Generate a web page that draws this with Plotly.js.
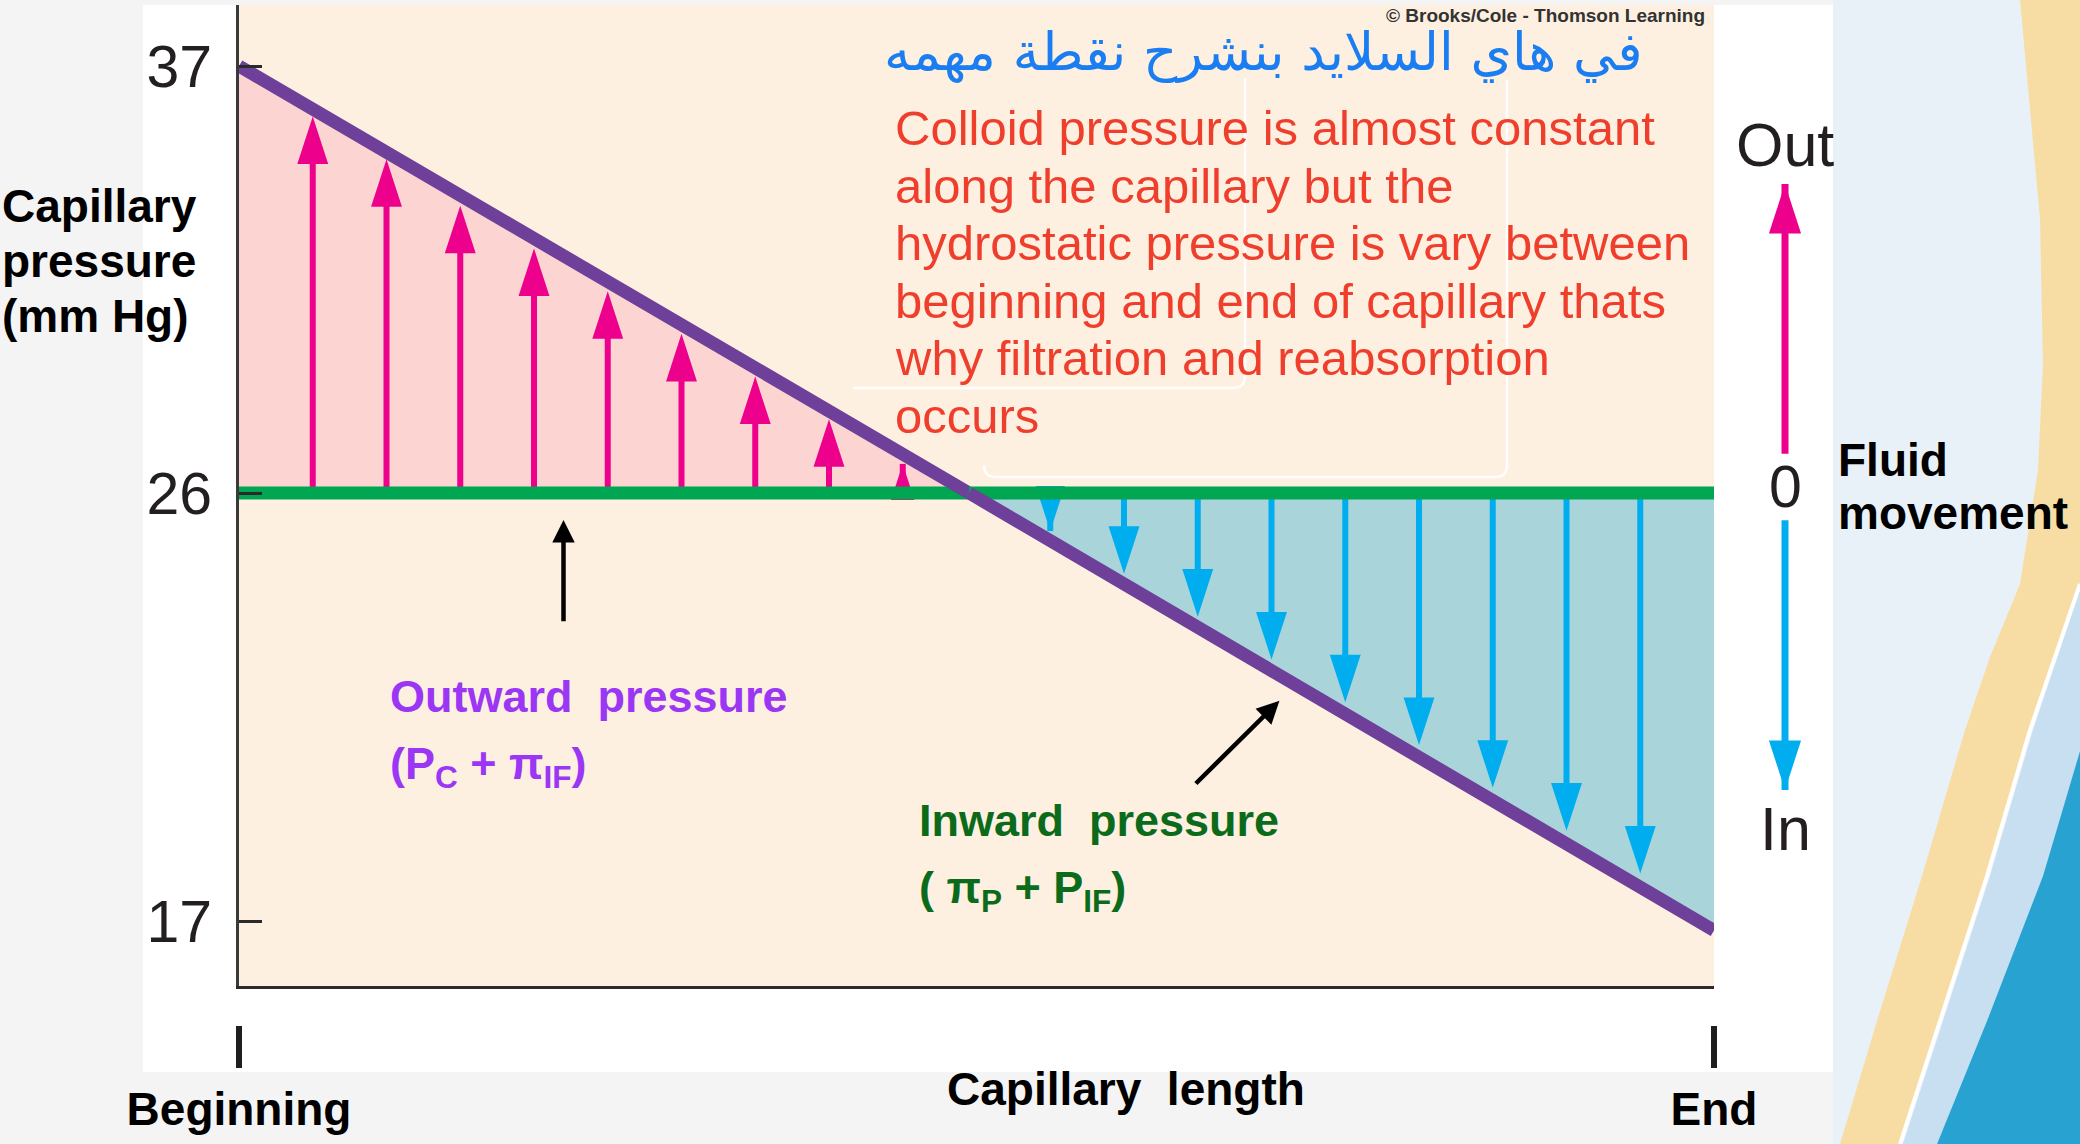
<!DOCTYPE html>
<html>
<head>
<meta charset="utf-8">
<script src="https://cdn.plot.ly/plotly-3.0.1.min.js"></script>
<style>
  html, body { margin: 0; padding: 0; background: #f4f4f4; }
  #chart { width: 2080px; height: 1144px; }
</style>
</head>
<body>
<div id="chart"></div>
<script>
// ---------------- data ----------------
const capillaryLength = [0, 0.495, 1];          // position along capillary (0 = beginning, 1 = end)
const purplePressure  = [37, 26, 16.8];         // mm Hg, sloping line
const greenPressure   = 26;                     // mm Hg, constant line
const yTickVals = [37, 26, 17];
const yTickText = ['37', '26', '17'];
const xTickVals = [0, 1];
const xTickText = ['Beginning', 'End'];
const outArrowX   = [0.05, 0.10, 0.15, 0.20, 0.25, 0.30, 0.35, 0.40, 0.45];
const outArrowTip = [35.7, 34.6, 33.4, 32.3, 31.2, 30.1, 29.0, 27.9, 26.75];
const inArrowX    = [0.55, 0.60, 0.65, 0.70, 0.75, 0.80, 0.85, 0.90, 0.95];
const inArrowTip  = [25.2, 24.3, 23.4, 22.5, 21.6, 20.7, 19.8, 18.9, 18.0];
const fluidLabels = ['Out', '0', 'In'];
const fluidLabelPos = [1.13, 0, -1.13];
const fluidOutArrow = [0.11, 1];
const fluidInArrow  = [-0.11, -1];
const noteLines = [
  'Colloid pressure is almost constant',
  'along the capillary but the',
  'hydrostatic pressure is vary between',
  'beginning and end of capillary thats',
  'why filtration and reabsorption',
  'occurs'
];
const arabicNote = 'في هاي السلايد بنشرح نقطة مهمه';

// ---------------- colours & fonts ----------------
const C = {
  peach: '#fdf0e1', pinkFill: '#fcd4d2', blueFill: '#a9d4da',
  green: '#00a651', purple: '#6e409a', pink: '#ec008c', cyan: '#00aeef',
  ink: '#231f20', red: '#ef3e2c', arabic: '#1a7ef2',
  outwardTxt: '#9b36f5', inwardTxt: '#0b6b1a'
};
const FONT = 'Liberation Sans, Arial, Helvetica, sans-serif';

// ---------------- geometry helpers (page pixels -> paper) ----------------
const W = 2080, H = 1144;
const X = p => p / W;
const Y = p => 1 - p / H;
const G = { left: 239, right: 1714, top: 5, bottom: 986, yHi: 66, yMid: 493, yLo: 921, ov: 7 };
const sUp = (G.yMid - G.yHi) / (yTickVals[0] - yTickVals[1]);   // px per mm Hg, upper part
const sLo = (G.yLo - G.yMid) / (yTickVals[1] - yTickVals[2]);   // px per mm Hg, lower part
const mid = yTickVals[1];

function arrowSeries(xs, tips, base, head) {
  const x = [], y = [], size = [];
  xs.forEach((v, i) => { x.push(v, v, null); y.push(base, tips[i], null); size.push(0, head, 0); });
  return { x, y, size };
}
const upA = arrowSeries(outArrowX, outArrowTip, greenPressure, 50);
const dnA = arrowSeries(inArrowX, inArrowTip, greenPressure, 50);

const split = capillaryLength[1];
const arrowMarker = (size, color) => ({ symbol: 'arrow', size, color, opacity: 1, angleref: 'previous', line: { width: 0 } });

const traces = [
  // ---- upper panel (above 26) ----
  { x: [capillaryLength[0], capillaryLength[1], capillaryLength[0]],
    y: [purplePressure[0], purplePressure[1], greenPressure],
    xaxis: 'x', yaxis: 'y', mode: 'lines', fill: 'toself', fillcolor: C.pinkFill,
    line: { width: 0, color: C.pinkFill }, hoverinfo: 'skip' },
  { x: upA.x, y: upA.y, xaxis: 'x', yaxis: 'y', mode: 'lines+markers',
    line: { color: C.pink, width: 6, backoff: 'auto' }, marker: arrowMarker(upA.size, C.pink), hoverinfo: 'skip' },
  { x: [capillaryLength[0], split], y: [greenPressure, greenPressure], xaxis: 'x', yaxis: 'y',
    mode: 'lines', line: { color: C.green, width: 13 }, hoverinfo: 'skip' },
  { x: capillaryLength.slice(0, 2), y: purplePressure.slice(0, 2), xaxis: 'x', yaxis: 'y',
    mode: 'lines', line: { color: C.purple, width: 13 }, hoverinfo: 'skip' },
  // ---- lower panel (below 26) ----
  { x: [capillaryLength[1], capillaryLength[2], capillaryLength[2]],
    y: [purplePressure[1], purplePressure[2], greenPressure],
    xaxis: 'x', yaxis: 'y2', mode: 'lines', fill: 'toself', fillcolor: C.blueFill,
    line: { width: 0, color: C.blueFill }, hoverinfo: 'skip' },
  { x: dnA.x, y: dnA.y, xaxis: 'x', yaxis: 'y2', mode: 'lines+markers',
    line: { color: C.cyan, width: 6, backoff: 'auto' }, marker: arrowMarker(dnA.size, C.cyan), hoverinfo: 'skip' },
  { x: [split, capillaryLength[2]], y: [greenPressure, greenPressure], xaxis: 'x', yaxis: 'y2',
    mode: 'lines', line: { color: C.green, width: 13 }, hoverinfo: 'skip' },
  { x: capillaryLength.slice(1), y: purplePressure.slice(1), xaxis: 'x', yaxis: 'y2',
    mode: 'lines', line: { color: C.purple, width: 13 }, hoverinfo: 'skip' },
  // ---- axis for Beginning / End marks ----
  { x: [], y: [], xaxis: 'x2', yaxis: 'y2', mode: 'lines', hoverinfo: 'skip' },
  // ---- fluid movement scale ----
  { x: [0, 0], y: fluidOutArrow, xaxis: 'x3', yaxis: 'y3', mode: 'lines+markers',
    line: { color: C.pink, width: 7, backoff: 'auto' }, marker: arrowMarker([0, 52], C.pink), hoverinfo: 'skip' },
  { x: [0, 0], y: fluidInArrow, xaxis: 'x3', yaxis: 'y3', mode: 'lines+markers',
    line: { color: C.cyan, width: 7, backoff: 'auto' }, marker: arrowMarker([0, 52], C.cyan), hoverinfo: 'skip' }
];

const yAxisCommon = {
  showline: true, linecolor: '#3a3a3a', linewidth: 3, ticks: 'inside', ticklen: 23, tickwidth: 3,
  tickcolor: '#2a2a2a', showgrid: false, zeroline: false, fixedrange: true,
  tickfont: { family: FONT, size: 59, color: C.ink }, ticklabelstandoff: 12, anchor: 'x'
};
const upTicks = yTickVals.map((v, i) => [v, yTickText[i]]).filter(t => t[0] > mid);
const loTicks = yTickVals.map((v, i) => [v, yTickText[i]]).filter(t => t[0] <= mid);

function txt(text, xp, yp, size, color, opts) {
  return Object.assign({
    text, x: X(xp), y: Y(yp), xref: 'paper', yref: 'paper', showarrow: false,
    xanchor: 'left', yanchor: 'middle',
    font: { family: FONT, size, color }
  }, opts || {});
}
const bold = 700;
const bf = (size, color) => ({ font: { family: FONT, size, color, weight: bold } });

const annotations = [];
// y title
['Capillary', 'pressure', '(mm Hg)'].forEach((s, i) =>
  annotations.push(txt(s, 0, 206 + i * 55, 46, '#000', bf(46, '#000'))));
// fluid movement title
['Fluid', 'movement'].forEach((s, i) =>
  annotations.push(txt(s, 1836, 460 + i * 53, 46, '#000', bf(46, '#000'))));
// x title
annotations.push(txt('Capillary\u00a0 length', 1126, 1089, 46, '#000',
  Object.assign({ xanchor: 'center' }, bf(46, '#000'))));
// copyright
annotations.push(txt('© Brooks/Cole - Thomson Learning', 1707, 15, 19, '#333',
  Object.assign({ xanchor: 'right' }, bf(19, '#333'))));
// arabic note
annotations.push(txt(arabicNote, 1645, 52, 53, C.arabic,
  { xanchor: 'right', font: { family: 'DejaVu Sans, Noto Sans, sans-serif', size: 53, color: C.arabic } }));
// red note
noteLines.forEach((s, i) => annotations.push(txt(s, 893, 128 + i * 57.6, 49, C.red)));
// outward / inward labels
annotations.push(txt('Outward\u00a0 pressure', 388, 696, 45, C.outwardTxt, bf(45, C.outwardTxt)));
annotations.push(txt('(P<sub>C</sub> + π<sub>IF</sub>)', 388, 766, 45, C.outwardTxt, bf(45, C.outwardTxt)));
annotations.push(txt('Inward\u00a0 pressure', 917, 820, 45, C.inwardTxt, bf(45, C.inwardTxt)));
annotations.push(txt('( π<sub>P</sub> + P<sub>IF</sub>)', 917, 890, 45, C.inwardTxt, bf(45, C.inwardTxt)));
// fluid scale labels
fluidLabels.forEach((s, i) => annotations.push({
  text: s, x: 0, y: fluidLabelPos[i], xref: 'x3', yref: 'y3', showarrow: false,
  xanchor: 'center', yanchor: 'middle', font: { family: FONT, size: i === 1 ? 59 : 61, color: C.ink }
}));
// pointer arrows
annotations.push({ text: '', xref: 'x', yref: 'y2', axref: 'x', ayref: 'y2',
  x: 0.22, y: 25.43, ax: 0.22, ay: 23.27, showarrow: true, arrowhead: 2, arrowwidth: 4.5,
  arrowsize: 1, arrowcolor: '#000', standoff: 0 });
annotations.push({ text: '', xref: 'x', yref: 'y2', axref: 'x', ayref: 'y2',
  x: 0.7054, y: 21.63, ax: 0.6477, ay: 19.86, showarrow: true, arrowhead: 2, arrowwidth: 4.5,
  arrowsize: 1, arrowcolor: '#000', standoff: 0 });

function P(s) {
  return s.replace(/(-?\d+\.?\d*),(-?\d+\.?\d*)/g, (m, a, b) => X(+a).toFixed(5) + ',' + Y(+b).toFixed(5));
}
const deco = (path, fill, extra) => Object.assign({ type: 'path', xref: 'paper', yref: 'paper', layer: 'below',
  line: { width: 0 }, fillcolor: fill, path: P(path) }, extra || {});
const shapes = [
  // page background regions (slide decoration on the right)
  { type: 'rect', xref: 'paper', yref: 'paper', x0: X(1833), x1: 1, y0: 0, y1: 1, fillcolor: '#e9f1f8', line: { width: 0 }, layer: 'below' },
  deco('M2020,0 L2040,219 L2043,365 L2038,470 L2020,584 L1990,657 L1965,730 L1922,876 L1877,1021 L1840,1144 L1900,1144 L1940,1021 L1987,876 L2030,730 L2080,584 L2080,0 Z', '#f7dda3'),
  deco('M1903,1144 L1943,1021 L1990,876 L2033,730 L2080,590 L2080,751 L2043,876 L1987,1021 L1937,1144 Z', '#c7dff0'),
  deco('M1937,1144 L1987,1021 L2043,876 L2080,751 L2080,1144 Z', '#27a2d1'),
  deco('M1900,1144 L1940,1021 L1987,876 L2030,730 L2080,584', 'rgba(0,0,0,0)', { line: { width: 4, color: '#ffffff' } }),
  // white figure card and peach plot field
  { type: 'rect', xref: 'paper', yref: 'paper', x0: X(143), x1: X(1833), y0: Y(1072), y1: Y(5), fillcolor: '#ffffff', line: { width: 0 }, layer: 'below' },
  { type: 'rect', xref: 'paper', yref: 'paper', x0: X(G.left), x1: X(G.right), y0: Y(G.bottom), y1: Y(G.top), fillcolor: C.peach, line: { width: 0 }, layer: 'below' },
  // faint text-box outlines
  deco('M853,388 L1233,388 Q1245,388 1245,376 L1245,78', 'rgba(0,0,0,0)', { line: { width: 2.5, color: 'rgba(255,255,255,0.9)' } }),
  deco('M984,465 Q984,477 996,477 L1495,477 Q1507,477 1507,465 L1507,80', 'rgba(0,0,0,0)', { line: { width: 2.5, color: 'rgba(255,255,255,0.9)' } })
];

const layout = {
  width: W, height: H, margin: { l: 0, r: 0, t: 0, b: 0, pad: 0 },
  paper_bgcolor: '#f4f4f4', plot_bgcolor: 'rgba(0,0,0,0)', showlegend: false,
  font: { family: FONT, color: C.ink },
  xaxis: { domain: [X(G.left), X(G.right)], range: [0, 1], anchor: 'y2', showline: true,
    linecolor: '#2b2b2b', linewidth: 3, ticks: '', showticklabels: false, showgrid: false,
    zeroline: false, fixedrange: true },
  xaxis2: { overlaying: 'x', anchor: 'free', position: Y(1025), side: 'bottom', range: [0, 1],
    tickmode: 'array', tickvals: xTickVals, ticktext: xTickText, ticks: 'outside', ticklen: 42,
    tickwidth: 6, tickcolor: '#1e1e1e', showline: false, showgrid: false, zeroline: false,
    tickfont: { family: FONT, size: 46, color: '#000', weight: bold }, ticklabelstandoff: 2,
    fixedrange: true },
  yaxis: Object.assign({}, yAxisCommon, {
    domain: [Y(G.yMid + G.ov), Y(G.top)],
    range: [mid - G.ov / sUp, mid + (G.yMid - G.top) / sUp],
    tickmode: 'array', tickvals: upTicks.map(t => t[0]), ticktext: upTicks.map(t => t[1]) }),
  yaxis2: Object.assign({}, yAxisCommon, {
    domain: [Y(G.bottom), Y(G.yMid - G.ov)],
    range: [yTickVals[2] - (G.bottom - G.yLo) / sLo, mid + G.ov / sLo],
    tickmode: 'array', tickvals: loTicks.map(t => t[0]), ticktext: loTicks.map(t => t[1]) }),
  xaxis3: { domain: [X(1760), X(1810)], range: [-1, 1], anchor: 'y3', visible: false, fixedrange: true },
  yaxis3: { domain: [Y(880), Y(100)], range: [-(880 - 487) / 303, (487 - 100) / 303], anchor: 'x3',
    visible: false, fixedrange: true },
  annotations, shapes
};

Plotly.newPlot('chart', traces, layout, { displayModeBar: false, staticPlot: true });
</script>
</body>
</html>
